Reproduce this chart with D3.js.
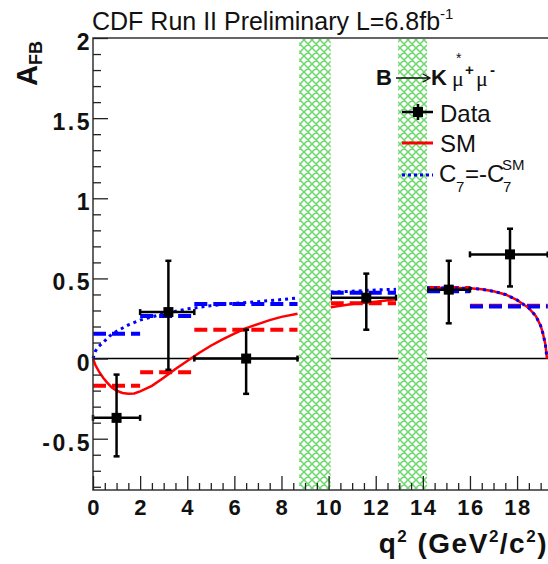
<!DOCTYPE html>
<html>
<head>
<meta charset="utf-8">
<script src="https://cdn.jsdelivr.net/npm/d3@7"></script>
<style>
body { margin: 0; background: #fff; }
svg { display: block; font-family: "Liberation Sans", Arial, sans-serif; }
</style>
</head>
<body>
<svg id="chart" width="548" height="564"></svg>
<script>
// q2 bins
var binLo = [0, 2, 4.3, 10.09, 14.18, 16];
var binHi = [2, 4.3, 8.68, 12.86, 16, 19.3];
// measured AFB
var dataX = [1.0, 3.2, 6.5, 11.6, 15.1, 17.7];
var dataY = [-0.37, 0.29, 0.0, 0.38, 0.43, 0.65];
var errLo = [0.24, 0.36, 0.22, 0.20, 0.21, 0.20];
var errHi = [0.27, 0.32, 0.18, 0.15, 0.18, 0.16];
// binned predictions
var smBin = [-0.17, -0.085, 0.18, 0.345, 0.44, 0.33];
var c7Bin = [0.155, 0.265, 0.34, 0.41, 0.42, 0.325];
// SM curve, one piece per region between the vetoes
var smSeg1 = [[0,0],[0.1,-0.04],[0.25,-0.08],[0.43,-0.12],[0.6,-0.15],[0.8,-0.18],[1.0,-0.2],[1.25,-0.215],[1.5,-0.22],[1.75,-0.218],[2.0,-0.205],[2.5,-0.17],[3.0,-0.12],[3.5,-0.065],[4.0,-0.015],[4.5,0.035],[5.0,0.08],[5.5,0.12],[6.0,0.155],[6.5,0.19],[7.0,0.215],[7.5,0.24],[8.0,0.26],[8.68,0.28]];
var smSeg2 = [[10.09,0.32],[11,0.34],[12,0.355],[12.86,0.37]];
var smSeg3 = [[14.18,0.44],[15,0.44],[16,0.438],[16.5,0.432],[17,0.42],[17.5,0.4],[18,0.365],[18.5,0.315],[18.8,0.265],[19.0,0.205],[19.1,0.155],[19.2,0.09],[19.27,0]];
// C7 = -C7(SM) curve
var c7Seg1 = [[0,0],[0.1,0.045],[0.2,0.07],[0.43,0.1],[0.7,0.14],[1.0,0.17],[1.5,0.21],[2.0,0.24],[3.0,0.28],[4.0,0.31],[5.0,0.33],[6.0,0.345],[7.0,0.355],[8.0,0.368],[8.68,0.378]];
var c7Seg2 = [[10.09,0.415],[11,0.42],[12,0.428],[12.86,0.432]];
var c7Seg3 = smSeg3;
// charmonium vetoes
var vetoLo = [8.75, 12.95];
var vetoHi = [10.09, 14.18];
// axes
var xTicks = [0, 2, 4, 6, 8, 10, 12, 14, 16, 18];
var yTicks = [-0.5, 0, 0.5, 1, 1.5, 2];
var yTickLabels = ["-0.5", "0", "0.5", "1", "1.5", "2"];

var svg = d3.select("#chart");
var x = d3.scaleLinear().domain([0, 19.5]).range([93, 93 + 19.5 * 23.56]);
var y = d3.scaleLinear().domain([-0.82, 2]).range([490, 38]);
var line = d3.line().x(function(d){ return x(d[0]); }).y(function(d){ return y(d[1]); });

// hatch for vetoed regions
var pat = svg.append("defs").append("pattern")
    .attr("id", "hatch").attr("patternUnits", "userSpaceOnUse")
    .attr("width", 8).attr("height", 8);
pat.append("rect").attr("width", 8).attr("height", 8).attr("fill", "#fff");
pat.append("path").attr("d", "M0,0L8,8M8,0L0,8M-1,7L1,9M7,-1L9,1")
    .attr("stroke", "#6ad86a").attr("stroke-width", 1.5);

// zero line
svg.append("line").attr("x1", x(0)).attr("x2", 548).attr("y1", y(0)).attr("y2", y(0))
    .attr("stroke", "#000").attr("stroke-width", 1.5);

// binned predictions
function bins(vals, color) {
    svg.append("g").selectAll("line").data(vals).enter().append("line")
        .attr("x1", function(d, i){ return x(binLo[i]); })
        .attr("x2", function(d, i){ return x(binHi[i]); })
        .attr("y1", function(d){ return y(d); })
        .attr("y2", function(d){ return y(d); })
        .attr("stroke", color).attr("stroke-width", 4)
        .attr("stroke-dasharray", "13,6");
}
bins(smBin, "#ff0000");
bins(c7Bin, "#0000ff");

// curves
[smSeg1, smSeg2, smSeg3].forEach(function(s){
    svg.append("path").attr("d", line(s)).attr("fill", "none")
        .attr("stroke", "#ff0000").attr("stroke-width", 2.5);
});
[c7Seg1, c7Seg2, c7Seg3].forEach(function(s){
    svg.append("path").attr("d", line(s)).attr("fill", "none")
        .attr("stroke", "#0000ff").attr("stroke-width", 3)
        .attr("stroke-dasharray", "3,4");
});

// data points
var pts = svg.append("g").attr("stroke", "#000").attr("stroke-width", 2.5);
dataX.forEach(function(dx, i){
    var cx = x(dx), cy = y(dataY[i]);
    var yt = y(dataY[i] + errHi[i]), yb = y(dataY[i] - errLo[i]);
    var xl = x(binLo[i]), xr = x(binHi[i]);
    pts.append("line").attr("x1", cx).attr("x2", cx).attr("y1", yt).attr("y2", yb);
    pts.append("line").attr("x1", xl).attr("x2", xr).attr("y1", cy).attr("y2", cy);
    pts.append("line").attr("x1", cx - 3).attr("x2", cx + 3).attr("y1", yt).attr("y2", yt);
    pts.append("line").attr("x1", cx - 3).attr("x2", cx + 3).attr("y1", yb).attr("y2", yb);
    pts.append("line").attr("x1", xl).attr("x2", xl).attr("y1", cy - 3).attr("y2", cy + 3);
    pts.append("line").attr("x1", xr).attr("x2", xr).attr("y1", cy - 3).attr("y2", cy + 3);
    pts.append("rect").attr("x", cx - 5).attr("y", cy - 5).attr("width", 10).attr("height", 10)
        .attr("fill", "#000").attr("stroke", "none");
});

// veto bands
vetoLo.forEach(function(lo, i){
    svg.append("rect").attr("x", x(lo)).attr("y", y(2) + 1)
        .attr("width", x(vetoHi[i]) - x(lo)).attr("height", y(-0.82) - y(2) - 2)
        .attr("fill", "url(#hatch)");
});

// frame
svg.append("path").attr("d", "M550," + y(2) + "H" + x(0) + "V" + y(-0.82) + "H550")
    .attr("fill", "none").attr("stroke", "#333").attr("stroke-width", 1.5);

// y ticks, pointing inwards
var yAxis = d3.axisLeft(y).tickValues(d3.range(-8, 21).map(function(v){ return v / 10; }))
    .tickSize(-8).tickFormat("");
svg.append("g").attr("transform", "translate(" + x(0) + ",0)").call(yAxis)
    .call(function(g){ g.select(".domain").remove(); })
    .selectAll("line").attr("stroke", "#222").attr("stroke-width", 1.3)
    .attr("x2", function(d){ return Math.abs(d * 2 - Math.round(d * 2)) < 1e-6 ? 15 : 8; });
svg.append("g").selectAll("text").data(yTicks).enter().append("text")
    .attr("x", 92).attr("y", function(d){ return y(d) + 12; })
    .attr("text-anchor", "end").attr("font-size", 23).attr("font-weight", "bold")
    .attr("letter-spacing", 2.5).attr("fill", "#111")
    .text(function(d, i){ return yTickLabels[i]; });

// x ticks
var xAxis = d3.axisBottom(x).tickValues(d3.range(0, 40).map(function(v){ return v / 2; }))
    .tickSize(-7).tickFormat("");
svg.append("g").attr("transform", "translate(0," + y(-0.82) + ")").call(xAxis)
    .call(function(g){ g.select(".domain").remove(); })
    .selectAll("line").attr("stroke", "#222").attr("stroke-width", 1.3)
    .attr("y2", function(d){ return d % 2 === 0 ? -14 : -7; });
svg.append("g").selectAll("text").data(xTicks).enter().append("text")
    .attr("x", function(d){ return x(d) + 1; }).attr("y", 515)
    .attr("text-anchor", "middle").attr("font-size", 22).attr("font-weight", "bold")
    .attr("letter-spacing", 1.5).attr("fill", "#111")
    .text(function(d){ return d; });

// axis titles
var xt = svg.append("text").attr("x", 548).attr("y", 553).attr("text-anchor", "end")
    .attr("font-size", 28).attr("font-weight", "bold").attr("letter-spacing", 1.5).attr("fill", "#111");
xt.append("tspan").text("q");
xt.append("tspan").attr("font-size", 17).attr("dy", -11).text("2");
xt.append("tspan").attr("dy", 11).text(" (GeV");
xt.append("tspan").attr("font-size", 17).attr("dy", -11).text("2");
xt.append("tspan").attr("dy", 11).text("/c");
xt.append("tspan").attr("font-size", 17).attr("dy", -11).text("2");
xt.append("tspan").attr("dy", 11).text(")");

var yt = svg.append("text").attr("transform", "translate(37,41) rotate(-90)")
    .attr("text-anchor", "end").attr("font-weight", "bold").attr("fill", "#111");
yt.append("tspan").attr("font-size", 29).text("A");
yt.append("tspan").attr("font-size", 18).attr("dy", 5).text("FB");

// title
var tt = svg.append("text").attr("x", 92).attr("y", 30).attr("font-size", 25).attr("fill", "#111");
tt.append("tspan").text("CDF Run II Preliminary L=6.8fb");
tt.append("tspan").attr("font-size", 15).attr("dy", -11).text("-1");

// legend
var lg = svg.append("g").attr("fill", "#111");
lg.append("text").attr("x", 376).attr("y", 85).attr("font-size", 22).attr("font-weight", "bold").text("B");
lg.append("path").attr("d", "M396,78H429M423,74L430,78L423,82")
    .attr("fill", "none").attr("stroke", "#111").attr("stroke-width", 1.3);
lg.append("text").attr("x", 431).attr("y", 85).attr("font-size", 22).attr("font-weight", "bold").text("K");
lg.append("text").attr("x", 456).attr("y", 63).attr("font-size", 14).text("*");
lg.append("text").attr("x", 452).attr("y", 86).attr("font-size", 22).attr("font-family", "Liberation Serif").text("μ");
lg.append("text").attr("x", 465).attr("y", 75).attr("font-size", 15).attr("font-weight", "bold").text("+");
lg.append("text").attr("x", 476).attr("y", 86).attr("font-size", 22).attr("font-family", "Liberation Serif").text("μ");
lg.append("text").attr("x", 490).attr("y", 75).attr("font-size", 15).attr("font-weight", "bold").text("-");

var lgX1 = 402, lgX2 = 433;
lg.append("line").attr("x1", lgX1).attr("x2", lgX2).attr("y1", 112).attr("y2", 112)
    .attr("stroke", "#000").attr("stroke-width", 2.5);
lg.append("line").attr("x1", 418).attr("x2", 418).attr("y1", 104).attr("y2", 120)
    .attr("stroke", "#000").attr("stroke-width", 2.5);
lg.append("rect").attr("x", 413).attr("y", 107).attr("width", 10).attr("height", 10).attr("fill", "#000");
lg.append("text").attr("x", 440).attr("y", 122).attr("font-size", 24).text("Data");

lg.append("line").attr("x1", lgX1).attr("x2", lgX2).attr("y1", 143).attr("y2", 143)
    .attr("stroke", "#ff0000").attr("stroke-width", 3);
lg.append("text").attr("x", 440).attr("y", 152).attr("font-size", 24).text("SM");

lg.append("line").attr("x1", lgX1).attr("x2", lgX2).attr("y1", 175).attr("y2", 175)
    .attr("stroke", "#0000ff").attr("stroke-width", 3).attr("stroke-dasharray", "3,3");
lg.append("text").attr("x", 439).attr("y", 182).attr("font-size", 24).text("C");
lg.append("text").attr("x", 456).attr("y", 192).attr("font-size", 15).text("7");
lg.append("text").attr("x", 465).attr("y", 182).attr("font-size", 24).text("=-C");
lg.append("text").attr("x", 503).attr("y", 192).attr("font-size", 15).text("7");
lg.append("text").attr("x", 502).attr("y", 170).attr("font-size", 15).text("SM");
</script>
</body>
</html>
